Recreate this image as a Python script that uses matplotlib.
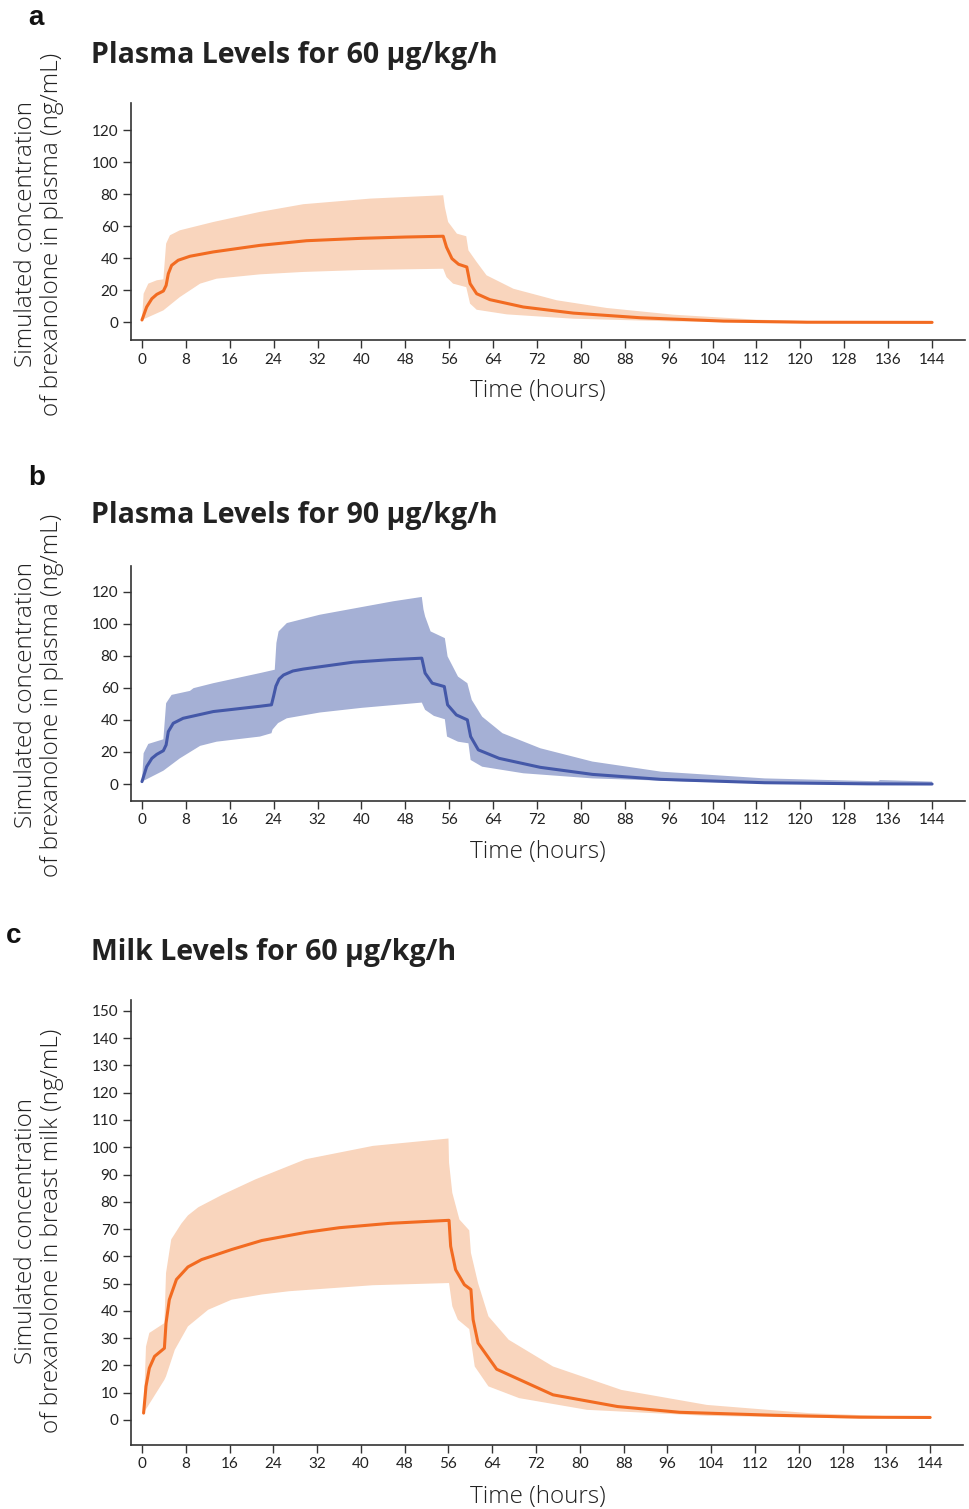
import matplotlib
matplotlib.use('Agg')
import matplotlib.pyplot as plt

# colours
orange = '#F26B21'
orange_fill = '#F9D5BD'
blue = '#4458A8'
blue_fill = '#A5B0D5'

# ---- panel a : plasma, 60 ug/kg/h
a_t_med = [0, 0.85, 1.8, 2.7, 3.9, 4.4, 4.8, 5.4, 6.6, 8.75, 13, 21.5, 30, 40, 48, 54.9, 55.5, 56.5, 57.7, 59.2, 59.8, 61, 63.4, 69.5, 78.6, 90.8, 106, 121.2, 144]
a_med = [1.5, 9.6, 14.8, 17.5, 19.6, 23.1, 30.4, 35.6, 38.8, 41.3, 44, 48.1, 51, 52.5, 53.3, 53.8, 47, 39.8, 36.3, 34.6, 24.2, 17.9, 14.2, 9.6, 5.8, 2.9, 0.8, 0.1, 0]
a_t_up = [0, 0.3, 1.15, 2.7, 3.9, 4.4, 5.1, 6.9, 13, 21.5, 29.4, 41.6, 54.9, 55.2, 55.8, 57.4, 59.1, 59.5, 61, 62.8, 67.7, 75.6, 84.7, 96.9, 112, 127, 144]
a_up = [1.5, 17.9, 24.2, 26.3, 26.9, 49.2, 54.4, 57.5, 62.7, 69, 73.8, 77.3, 79.4, 72, 62.7, 55.4, 53.8, 45, 37.7, 29.4, 21, 13.8, 9, 4.8, 1.7, 0.4, 0.2]
a_t_lo = [0, 3.9, 6.9, 10.6, 13.6, 21.5, 29.4, 40, 54.9, 55.5, 56.7, 59.1, 59.8, 61, 66.5, 78.6, 96.9, 120, 144]
a_lo = [1.5, 7.5, 15.8, 24.2, 27.3, 30, 31.5, 32.7, 33.5, 28.3, 24.2, 22, 11.7, 7.9, 5, 2.3, 0.6, 0.1, 0]

# ---- panel b : plasma, 90 ug/kg/h
b_t_med = [0, 0.85, 1.8, 2.7, 3.9, 4.4, 4.8, 5.7, 7.5, 13, 21.5, 23.6, 24.0, 24.4, 25, 25.8, 27.5, 29.4, 38.5, 45, 51, 51.6, 52.9, 55.1, 55.7, 57.3, 59.3, 59.9, 61.3, 65.1, 72.6, 82.1, 94.6, 113.5, 132.3, 144]
b_med = [1.5, 10.8, 16, 18.5, 20.8, 24.4, 32.7, 37.9, 41, 45.2, 48.5, 49.4, 55, 61, 65.5, 68, 70.5, 71.7, 76, 77.5, 78.5, 69.2, 62.9, 60.8, 49.4, 43.1, 40, 29.6, 21.3, 16, 10.4, 6, 2.9, 0.8, 0.1, 0]
b_t_up = [0, 0.3, 1.15, 3.9, 4.4, 5.4, 8.75, 9.4, 13, 21.5, 24.2, 24.5, 24.9, 26.4, 32.4, 45.8, 51, 51.3, 51.6, 52.6, 55.2, 55.7, 57.6, 59.3, 60.1, 62, 65.7, 72.6, 82.1, 94.6, 113.5, 134.2, 134.5, 144]
b_up = [1.5, 19.2, 25, 27.9, 50.4, 55.6, 58.1, 59.8, 62.9, 69.2, 71.3, 88, 95.2, 100.4, 105.6, 114, 116.7, 109, 104.6, 95.2, 91, 79.6, 67, 62.9, 52.5, 42, 31.7, 22.3, 14, 7.7, 3.5, 1.7, 2.5, 1.5]
b_t_lo = [0, 3.9, 6.9, 10.6, 13.6, 21.5, 23.6, 23.8, 24.8, 26.4, 32.4, 40, 51, 51.6, 53.2, 55.2, 55.6, 57.6, 59.5, 59.9, 62, 69.5, 82.1, 100.9, 119.3, 144]
b_lo = [1.5, 8.3, 16, 23.8, 26.4, 29.6, 31.7, 34, 38, 41, 44.6, 47.5, 50.8, 46.3, 42.5, 40.4, 29.6, 26.4, 25.4, 15, 10.8, 6.7, 3.5, 1.4, 0.4, 0]

# ---- panel c : milk, 60 ug/kg/h
c_t_med = [0.3, 0.74, 1.35, 2.3, 4.1, 4.4, 5, 6.3, 8.4, 10.9, 16.4, 21.9, 30, 36.1, 45.3, 56.1, 56.4, 57.3, 58.9, 60.1, 60.5, 61.4, 64.8, 75.1, 86.9, 98.2, 115.6, 131.2, 144]
c_med = [2.5, 12.3, 19, 23.3, 26.3, 35.5, 44.1, 51.5, 56.1, 58.8, 62.5, 65.8, 68.8, 70.5, 72.1, 73.2, 63.7, 55.1, 49.6, 47.8, 36.8, 28.2, 18.6, 9.2, 4.9, 2.8, 1.7, 1, 0.9]
c_t_up = [0.3, 0.74, 1.35, 4.1, 4.4, 5.35, 7.2, 8.4, 10.3, 14.6, 20.7, 29.9, 42.2, 56, 56.1, 56.7, 58, 59.8, 60.1, 61.4, 63.3, 67, 75.1, 87.6, 103.2, 121.8, 141, 144]
c_up = [2.5, 26.9, 31.9, 35.5, 53.9, 66.2, 72, 75, 78, 82.5, 88.2, 95.6, 100.5, 103.2, 94.4, 83.3, 73.5, 69.5, 61.3, 50.2, 38, 29.4, 19.6, 11, 5.5, 2.5, 1, 0.9]
c_t_lo = [0.3, 4.1, 4.4, 6, 8.4, 12.1, 16.4, 21.9, 26.9, 42.2, 56.1, 56.7, 57.7, 59.8, 60.8, 63.3, 68.9, 81.3, 103.2, 128, 144]
c_lo = [2.5, 14.7, 16, 25.7, 34.3, 40.4, 44.1, 46, 47.2, 49.4, 50.2, 41.7, 36.8, 33.3, 19.6, 12.3, 8, 3.7, 1.5, 0.6, 0.5]

x_ticks = list(range(0, 145, 8))
W, H = 970, 1509

plt.rcParams['font.family'] = ['Lato', 'DejaVu Sans']
fig = plt.figure(figsize=(W / 100, H / 100), dpi=100)


def box(left, top, right, bottom):
    return [left / W, 1 - bottom / H, (right - left) / W, (bottom - top) / H]


def panel(rect, t_med, med, t_up, up, t_lo, lo, line_c, fill_c, yticks, ylim):
    ax = fig.add_axes(rect)
    # band = upper edge out, lower edge back
    xs = list(t_up) + list(reversed(t_lo))
    ys = list(up) + list(reversed(lo))
    ax.fill(xs, ys, color=fill_c, lw=0, zorder=1)
    ax.plot(t_med, med, color=line_c, lw=2.2, zorder=2,
            solid_capstyle='round', solid_joinstyle='round')
    ax.set_xlim(-2, 150)
    ax.set_ylim(*ylim)
    ax.set_xticks(x_ticks)
    ax.set_yticks(yticks)
    for s in ['top', 'right']:
        ax.spines[s].set_visible(False)
    for s in ['left', 'bottom']:
        ax.spines[s].set_color('#333333')
        ax.spines[s].set_linewidth(1.2)
    ax.tick_params(direction='out', length=6, width=1, color='#333333',
                   labelsize=11, labelcolor='#222222', pad=3)
    return ax


panel(box(131, 103, 965, 340), a_t_med, a_med, a_t_up, a_up, a_t_lo, a_lo,
      orange, orange_fill, list(range(0, 121, 20)), (-11, 137))
panel(box(131, 566, 965, 801), b_t_med, b_med, b_t_up, b_up, b_t_lo, b_lo,
      blue, blue_fill, list(range(0, 121, 20)), (-10.6, 136))
panel(box(131, 1000, 963, 1445), c_t_med, c_med, c_t_up, c_up, c_t_lo, c_lo,
      orange, orange_fill, list(range(0, 151, 10)), (-9.2, 154))


def ftext(x, y, s, **kw):
    fig.text(x / W, 1 - y / H, s, **kw)


# panel letters and titles
for x, y, s in [(28, 18, 'a'), (28, 478, 'b'), (6, 936, 'c')]:
    ftext(x, y, s, fontsize=20, fontweight='bold', family='Liberation Sans',
          ha='left', va='center', color='#111111')
for y, s in [(55, 'Plasma Levels for 60 μg/kg/h'), (516, 'Plasma Levels for 90 μg/kg/h'),
             (953, 'Milk Levels for 60 μg/kg/h')]:
    ftext(91, y, s, fontsize=20.5, fontweight='bold', family=['Open Sans', 'DejaVu Sans'],
          ha='left', va='center', color='#222222')

# axis labels
for y in [391, 852, 1497]:
    ftext(538, y, 'Time (hours)', fontsize=17.5, family=['Open Sans', 'DejaVu Sans'],
          fontweight='light', ha='center', va='center', color='#222222')
for y, s in [(234, 'Simulated concentration\nof brexanolone in plasma (ng/mL)'),
             (695, 'Simulated concentration\nof brexanolone in plasma (ng/mL)'),
             (1231, 'Simulated concentration\nof brexanolone in breast milk (ng/mL)')]:
    ftext(39, y, s, fontsize=17.5, rotation=90, ha='center', va='center',
          family=['Open Sans', 'DejaVu Sans'], fontweight='light',
          multialignment='center', linespacing=1.1, color='#222222')

fig.savefig('out.png', dpi=100)
